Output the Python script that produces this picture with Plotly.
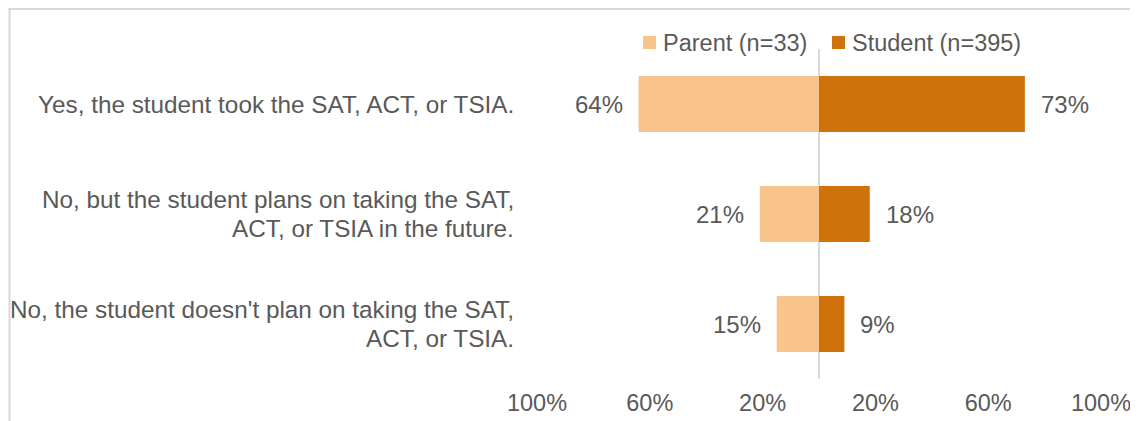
import plotly.graph_objects as go

# ---- data ----
categories = [
    "Yes, the student took the SAT, ACT, or TSIA.",
    "No, but the student plans on taking the SAT,<br>ACT, or TSIA in the future.",
    "No, the student doesn't plan on taking the SAT,<br>ACT, or TSIA.",
]
parent_values = [64, 21, 15]
student_values = [73, 18, 9]
series_names = ["Parent (n=33)", "Student (n=395)"]
tick_values = [-100, -60, -20, 20, 60, 100]
tick_labels = ["100%", "60%", "20%", "20%", "60%", "100%"]

# ---- style ----
OFF = 8  # page body margin
W, H = 1130, 413
L, R, T, B = 529, 37, 41, 42
PW, PH = W - L - R, H - T - B
FONT = "Liberation Sans, Arial, sans-serif"
TXT = "#595959"
FS = 23.5
FS_CAT = 24.3
FS_VAL = 24
LINE_GAP = 29
C_PARENT = "#F8C48A"
C_STUDENT = "#D0720C"
GRAYLINE = "#D9D9D9"


def px2x(px):  # reference-image pixel -> paper x
    return (px - OFF - L) / PW


def px2y(py):  # reference-image pixel -> paper y
    return (H - B - (py - OFF)) / PH


fig = go.Figure()
fig.add_trace(go.Bar(
    y=categories, x=[-v for v in parent_values], orientation="h",
    name=series_names[0], marker=dict(color=C_PARENT, line=dict(width=0)),
    customdata=parent_values, hovertemplate="%{customdata}%<extra></extra>",
))
fig.add_trace(go.Bar(
    y=categories, x=student_values, orientation="h",
    name=series_names[1], marker=dict(color=C_STUDENT, line=dict(width=0)),
    hovertemplate="%{x}%<extra></extra>",
))

annotations = []
for cat, pv, sv in zip(categories, parent_values, student_values):
    annotations.append(dict(x=-pv, y=cat, xref="x", yref="y", text=f"{pv}%",
                            xanchor="right", yanchor="middle", xshift=-14,
                            showarrow=False, font=dict(family=FONT, size=FS_VAL, color=TXT)))
    annotations.append(dict(x=sv, y=cat, xref="x", yref="y", text=f"{sv}%",
                            xanchor="left", yanchor="middle", xshift=14,
                            showarrow=False, font=dict(family=FONT, size=FS_VAL, color=TXT)))
    lines = cat.split("<br>")
    n = len(lines)
    for i, line in enumerate(lines):
        yshift = ((n - 1) / 2 - i) * LINE_GAP
        annotations.append(dict(x=px2x(516), y=cat, xref="paper", yref="y", text=line,
                                xanchor="right", yanchor="middle", align="right",
                                yshift=yshift, showarrow=False,
                                font=dict(family=FONT, size=FS_CAT, color=TXT)))

# manual legend
legend_items = [(series_names[0], C_PARENT, 643), (series_names[1], C_STUDENT, 832)]
shapes = []
for name, col, sx in legend_items:
    shapes.append(dict(type="rect", xref="paper", yref="paper",
                       x0=px2x(sx), x1=px2x(sx + 13), y0=px2y(49), y1=px2y(36),
                       fillcolor=col, line=dict(width=0)))
    annotations.append(dict(x=px2x(sx + 18), y=px2y(43), xref="paper", yref="paper",
                            text=name, xanchor="left", yanchor="middle", showarrow=False,
                            font=dict(family=FONT, size=FS, color=TXT)))

# frame lines
shapes.append(dict(type="line", xref="paper", yref="paper", x0=px2x(9.5), x1=px2x(9.5),
                   y0=px2y(8.5), y1=px2y(OFF + H + 5), line=dict(color=GRAYLINE, width=2)))
shapes.append(dict(type="line", xref="paper", yref="paper", x0=px2x(8.5), x1=px2x(OFF + W + 5),
                   y0=px2y(9), y1=px2y(9), line=dict(color=GRAYLINE, width=2)))

fig.update_layout(
    width=W, height=H,
    margin=dict(l=L, r=R, t=T, b=B, pad=0, autoexpand=False),
    barmode="relative", bargap=0.49,
    showlegend=False,
    paper_bgcolor="white", plot_bgcolor="white",
    font=dict(family=FONT, size=FS, color=TXT),
    xaxis=dict(range=[-100, 100], tickvals=tick_values, ticktext=tick_labels,
               showgrid=False, zeroline=True, zerolinecolor=GRAYLINE, zerolinewidth=1.5,
               showline=False, ticks="outside", ticklen=3, tickcolor="rgba(0,0,0,0)",
               layer="above traces", automargin=False,
               tickfont=dict(family=FONT, size=FS, color=TXT), fixedrange=True),
    yaxis=dict(categoryorder="array", categoryarray=categories, autorange="reversed",
               showticklabels=False, showgrid=False, zeroline=False, showline=False,
               ticks="", automargin=False, fixedrange=True),
    annotations=annotations,
    shapes=shapes,
)

fig.write_html("out.html")
